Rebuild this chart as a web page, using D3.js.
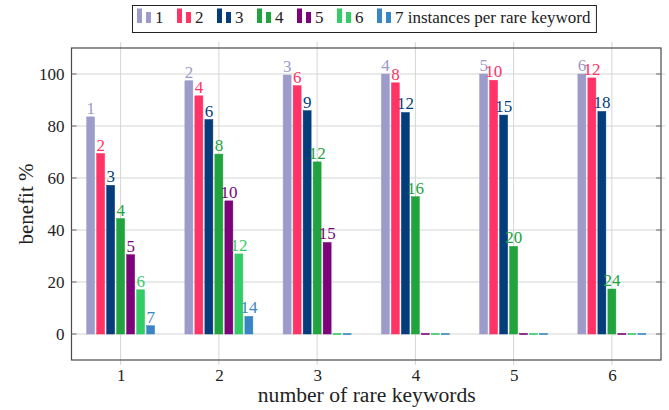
<!DOCTYPE html>
<html>
<head>
<meta charset="utf-8">
<script src="https://cdn.jsdelivr.net/npm/d3@7"></script>
<style>
  html, body { margin: 0; padding: 0; background: #fff; }
</style>
</head>
<body>
<svg id="chart" width="669" height="410"></svg>
<script>
// Number of rare keywords in the query (x categories)
const keywords = [1, 2, 3, 4, 5, 6];

// Benefit (%) per instances-per-rare-keyword setting
const inst1 = [83.5, 97.4, 99.6, 100, 100, 100];
const inst2 = [69.4, 91.6, 95.5, 96.6, 97.6, 98.5];
const inst3 = [57.2, 82.5, 85.9, 85.2, 84.2, 85.6];
const inst4 = [44.4, 69.2, 66.2, 52.8, 33.7, 17.3];
const inst5 = [30.5, 51.2, 35.2, 0, 0, 0];
const inst6 = [17.0, 30.8, 0, 0, 0, 0];
const inst7 = [3.2, 6.8, 0, 0, 0, 0];

// Total number of instances written above each bar
const total1 = [1, 2, 3, 4, 5, 6];
const total2 = [2, 4, 6, 8, 10, 12];
const total3 = [3, 6, 9, 12, 15, 18];
const total4 = [4, 8, 12, 16, 20, 24];
const total5 = [5, 10, 15, 20, 25, 30];
const total6 = [6, 12, 18, 24, 30, 36];
const total7 = [7, 14, 21, 28, 35, 42];

const legendLabels = ["1", "2", "3", "4", "5", "6", "7 instances per rare keyword"];
const yTicks = [0, 20, 40, 60, 80, 100];
const colors = ["#9d9bc9", "#ff3366", "#053d7b", "#21a33d", "#7c037a", "#33cc66", "#3a85c4"];

const seriesValues = [inst1, inst2, inst3, inst4, inst5, inst6, inst7];
const seriesTotals = [total1, total2, total3, total4, total5, total6, total7];

const FONT = "'Liberation Serif', 'DejaVu Serif', 'Times New Roman', serif";

const svg = d3.select("#chart").attr("font-family", FONT).style("font-family", FONT);
const plot = { left: 71.5, right: 661, top: 48, bottom: 360 };

const x = d3.scaleLinear().domain([0.5, 6.5]).range([plot.left, plot.right]);
const y = d3.scaleLinear().domain([-10, 110]).range([plot.bottom, plot.top]);

// bar placement within a group
const barStep = 10, barWidth = 8;
const nSeries = seriesValues.length;
const offset = i => (i - (nSeries - 1) / 2) * barStep;

const gridColor = "#d4d4d4";
const frameColor = "#4a4a4a";

// grid lines
const grid = svg.append("g");
grid.selectAll("line.h").data(yTicks).join("line")
  .attr("x1", plot.left).attr("x2", plot.right + 4)
  .attr("y1", d => y(d)).attr("y2", d => y(d))
  .attr("stroke", gridColor).attr("stroke-width", 1);
grid.selectAll("line.v").data(keywords).join("line")
  .attr("x1", d => x(d)).attr("x2", d => x(d))
  .attr("y1", plot.top - 6).attr("y2", plot.bottom + 5)
  .attr("stroke", gridColor).attr("stroke-width", 1);

// bars (empty bars still show as a thin line on the zero level)
const bars = svg.append("g");
seriesValues.forEach((vals, i) => {
  const g = bars.append("g");
  g.selectAll("rect").data(vals).join("rect")
    .attr("x", (d, j) => x(keywords[j]) + offset(i) - barWidth / 2)
    .attr("width", barWidth)
    .attr("y", d => Math.min(y(Math.max(d, 0)), y(0) - 0.6))
    .attr("height", d => Math.max(Math.abs(y(0) - y(d)), 1.2))
    .attr("fill", colors[i])
    .attr("stroke", colors[i])
    .attr("stroke-width", 0.5);
  // instance totals above the non-empty bars
  g.selectAll("text").data(vals.map((v, j) => ({ v, j, t: seriesTotals[i][j] })).filter(d => d.v > 0))
    .join("text")
    .attr("x", d => x(keywords[d.j]) + offset(i))
    .attr("y", d => y(d.v) - 3)
    .attr("text-anchor", "middle")
    .attr("font-family", FONT)
    .attr("font-size", 17)
    .attr("fill", colors[i])
    .text(d => d.t);
});

// frame
svg.append("rect")
  .attr("x", plot.left).attr("y", plot.top)
  .attr("width", plot.right - plot.left).attr("height", plot.bottom - plot.top)
  .attr("fill", "none").attr("stroke", frameColor).attr("stroke-width", 1.2);

// inner tick marks on left and right
const ticks = svg.append("g").attr("stroke", "#6a6a6a").attr("stroke-width", 1);
yTicks.forEach(t => {
  ticks.append("line").attr("x1", plot.left).attr("x2", plot.left + 5).attr("y1", y(t)).attr("y2", y(t));
  ticks.append("line").attr("x1", plot.right - 5).attr("x2", plot.right).attr("y1", y(t)).attr("y2", y(t));
});

// tick labels via d3 axes (axis lines hidden)
const yAxis = svg.append("g").attr("transform", `translate(${plot.left},0)`)
  .call(d3.axisLeft(y).tickValues(yTicks).tickFormat(d3.format("d")).tickSize(0).tickPadding(7));
const xAxis = svg.append("g").attr("transform", `translate(0,${plot.bottom})`)
  .call(d3.axisBottom(x).tickValues(keywords).tickFormat(d3.format("d")).tickSize(0).tickPadding(9));
[yAxis, xAxis].forEach(a => {
  a.attr("font-family", FONT).attr("font-size", 17);
  a.select(".domain").remove();
  a.selectAll("text").attr("fill", "#222");
});

// axis titles
svg.append("text")
  .attr("x", (plot.left + plot.right) / 2 + 0.5).attr("y", 402)
  .attr("text-anchor", "middle").attr("font-size", 20.5).attr("fill", "#222")
  .attr("textLength", 218).attr("lengthAdjust", "spacingAndGlyphs")
  .text("number of rare keywords");
svg.append("text")
  .attr("transform", `translate(33,${(plot.top + plot.bottom) / 2}) rotate(-90)`)
  .attr("text-anchor", "middle").attr("font-size", 21).attr("fill", "#222")
  .text("benefit %");

// legend
const legend = svg.append("g");
const legTop = 5.5, legBottom = 32.5;
let lx = 137;
const itemEnds = [];
legendLabels.forEach((lab, i) => {
  const item = legend.append("g");
  item.append("rect").attr("x", lx).attr("y", 8.5).attr("width", 5).attr("height", 14.5).attr("fill", colors[i]);
  item.append("rect").attr("x", lx + 9).attr("y", 12).attr("width", 5).attr("height", 11).attr("fill", colors[i]);
  const t = item.append("text").attr("x", lx + 18).attr("y", 23).attr("font-size", 17).attr("fill", "#222").text(lab);
  const w = t.node().getComputedTextLength();
  itemEnds.push(lx + 18 + w);
  lx = lx + 18 + w + 13.5;
});
const legRight = itemEnds[itemEnds.length - 1] + 6;
legend.insert("rect", ":first-child")
  .attr("x", 132.5).attr("y", legTop)
  .attr("width", legRight - 132.5).attr("height", legBottom - legTop)
  .attr("fill", "#fff").attr("stroke", "#222").attr("stroke-width", 1);
</script>
</body>
</html>
